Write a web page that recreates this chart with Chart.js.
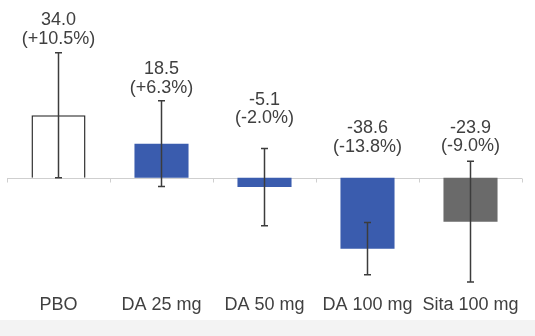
<!DOCTYPE html>
<html>
<head>
<meta charset="utf-8">
<script src="https://cdn.jsdelivr.net/npm/chart.js@4/dist/chart.umd.min.js"></script>
<style>
  html, body { margin: 0; padding: 0; background: #f3f3f3; }
  #wrap { position: relative; width: 535px; height: 320px; background: #ffffff; }
</style>
</head>
<body>
<div id="wrap"><canvas id="chart" width="535" height="320"></canvas></div>
<script>
// Change from baseline per treatment group
const categories = ['PBO', 'DA 25 mg', 'DA 50 mg', 'DA 100 mg', 'Sita 100 mg'];
const changes = [34.0, 18.5, -5.1, -38.6, -23.9];
const percentChanges = [10.5, 6.3, -2.0, -13.8, -9.0];
const errors = [34.0, 23.3, 21.0, 14.2, 32.8];

const TEXT = '#404040';
const FONT = '"Liberation Sans", Arial, sans-serif';
// gap (px) between the top of each group's marks and its label block
const labelGaps = [14, 13, 30, 31, 15];

const zeroAxis = {
  id: 'zeroAxis',
  beforeDatasetsDraw(chart) {
    const { ctx, chartArea, scales } = chart;
    const y0 = Math.round(scales.y.getPixelForValue(0)) + 0.5;
    const n = categories.length;
    const w = (chartArea.right - chartArea.left) / n;
    ctx.save();
    ctx.strokeStyle = '#cfcfcf';
    ctx.lineWidth = 1;
    ctx.beginPath();
    ctx.moveTo(chartArea.left, y0);
    ctx.lineTo(chartArea.right, y0);
    for (let i = 0; i <= n; i++) {
      const x = Math.round(chartArea.left + i * w) + 0.5;
      ctx.moveTo(x, y0);
      ctx.lineTo(x, y0 + 4);
    }
    ctx.stroke();
    ctx.restore();
  }
};

const errorBars = {
  id: 'errorBars',
  afterDatasetsDraw(chart) {
    const { ctx, scales } = chart;
    const meta = chart.getDatasetMeta(0);
    ctx.save();
    ctx.strokeStyle = '#3c3c3c';
    ctx.lineWidth = 1.5;
    meta.data.forEach((bar, i) => {
      const x = bar.x;
      const yTop = scales.y.getPixelForValue(changes[i] + errors[i]);
      const yBot = scales.y.getPixelForValue(changes[i] - errors[i]);
      ctx.beginPath();
      ctx.moveTo(x, yTop);
      ctx.lineTo(x, yBot);
      ctx.moveTo(x - 3.5, yTop);
      ctx.lineTo(x + 3.5, yTop);
      ctx.moveTo(x - 3.5, yBot);
      ctx.lineTo(x + 3.5, yBot);
      ctx.stroke();
    });
    ctx.restore();
  }
};

const valueLabels = {
  id: 'valueLabels',
  afterDatasetsDraw(chart) {
    const { ctx, scales } = chart;
    const meta = chart.getDatasetMeta(0);
    const y0 = scales.y.getPixelForValue(0);
    ctx.save();
    ctx.fillStyle = TEXT;
    ctx.font = '18px ' + FONT;
    ctx.textAlign = 'center';
    ctx.textBaseline = 'middle';
    meta.data.forEach((bar, i) => {
      const top = Math.min(scales.y.getPixelForValue(changes[i] + errors[i]), y0);
      const line2 = top - labelGaps[i];
      const line1 = line2 - 18.5;
      const p = percentChanges[i];
      const pct = '(' + (p > 0 ? '+' : '') + p.toFixed(1) + '%)';
      ctx.fillText(changes[i].toFixed(1), bar.x, line1);
      ctx.fillText(pct, bar.x, line2);
    });
    ctx.restore();
  }
};

new Chart(document.getElementById('chart'), {
  type: 'bar',
  data: {
    labels: categories,
    datasets: [{
      data: changes,
      backgroundColor: ['#ffffff', '#3a5cae', '#3a5cae', '#3a5cae', '#6a6a6a'],
      borderColor: ['#333333', '#3a5cae', '#3a5cae', '#3a5cae', '#6a6a6a'],
      borderWidth: [1.5, 0, 0, 0, 0],
      categoryPercentage: 1,
      barPercentage: 0.525
    }]
  },
  options: {
    responsive: false,
    animation: false,
    devicePixelRatio: 1,
    layout: { padding: { left: 7, right: 13, top: 49, bottom: 0 } },
    plugins: { legend: { display: false }, tooltip: { enabled: false } },
    scales: {
      x: {
        grid: { display: false },
        border: { display: false },
        afterFit(scale) { scale.height = 32; },
        ticks: {
          color: TEXT,
          font: { family: FONT, size: 18 },
          padding: -2,
          maxRotation: 0,
          autoSkip: false
        }
      },
      y: { display: false, min: -60, max: 70 }
    }
  },
  plugins: [zeroAxis, errorBars, valueLabels]
});
</script>
</body>
</html>
